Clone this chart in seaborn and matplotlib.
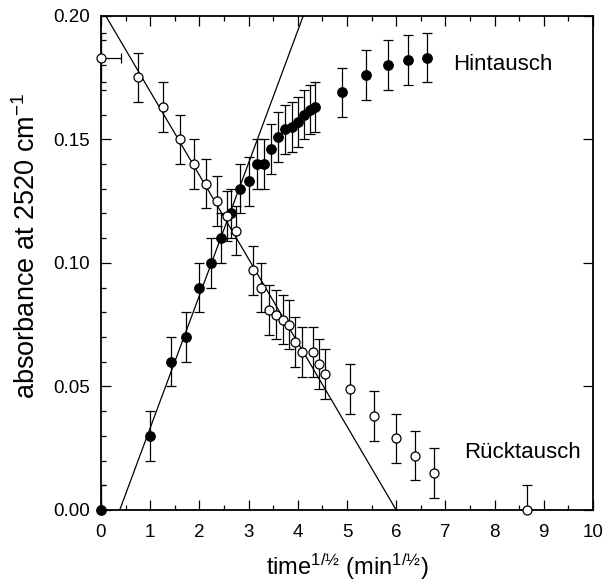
import numpy as np
import pandas as pd
import matplotlib
matplotlib.use("Agg")
import matplotlib.pyplot as plt
from matplotlib.ticker import MultipleLocator, FormatStrFormatter
import seaborn as sns

# Hintausch (filled circles)
hin_x = [0.0, 1.0, 1.414, 1.732, 2.0, 2.236, 2.449, 2.646, 2.828, 3.0, 3.162,
         3.317, 3.464, 3.606, 3.742, 3.873, 4.0, 4.123, 4.243, 4.359,
         4.899, 5.385, 5.831, 6.245, 6.633]
hin_y = [0.000, 0.030, 0.060, 0.070, 0.090, 0.100, 0.110, 0.120, 0.130, 0.133,
         0.140, 0.140, 0.146, 0.151, 0.154, 0.155, 0.157, 0.160, 0.162, 0.163,
         0.169, 0.176, 0.180, 0.182, 0.183]
hin_err = [0.01] * len(hin_x)

# Rücktausch (open circles)
rue_x = [0.0, 0.75, 1.25, 1.60, 1.89, 2.13, 2.35, 2.56, 2.75, 3.09, 3.25,
         3.41, 3.55, 3.69, 3.82, 3.95, 4.08, 4.31, 4.43, 4.55,
         5.06, 5.54, 5.99, 6.38, 6.77, 8.66]
rue_y = [0.183, 0.175, 0.163, 0.150, 0.140, 0.132, 0.125, 0.119, 0.113, 0.097,
         0.090, 0.081, 0.079, 0.077, 0.075, 0.068, 0.064, 0.064, 0.059, 0.055,
         0.049, 0.038, 0.029, 0.022, 0.015, 0.000]
rue_yerr = [0.01] * len(rue_x)
rue_xerr = [0.4] + [0.0] * (len(rue_x) - 1)

# Linear fits: y = intercept + slope * x
fit_names = ["Hintausch", "Rücktausch"]
fit_slope = [0.0536, -0.03387]
fit_intercept = [-0.0204, 0.2032]

x_ticks = list(range(0, 11))
y_ticks = [0.00, 0.05, 0.10, 0.15, 0.20]

sns.set_style("ticks")
plt.rcParams["font.family"] = ["Liberation Sans", "DejaVu Sans"]
plt.rcParams["mathtext.fontset"] = "custom"
plt.rcParams["mathtext.rm"] = "Liberation Sans"
plt.rcParams["mathtext.it"] = "Liberation Sans:italic"
plt.rcParams["mathtext.bf"] = "Liberation Sans:bold"
plt.rcParams["text.color"] = "black"
plt.rcParams["axes.labelcolor"] = "black"

fig = plt.figure(figsize=(6.03, 5.81), dpi=100)
ax = fig.add_axes([101 / 603, 1 - 510 / 581, 492 / 603, 494.3 / 581])

# fitted lines
xs = np.array([0.0, 10.0])
fit_rows = []
for name, m, b in zip(fit_names, fit_slope, fit_intercept):
    for xv in xs:
        fit_rows.append({"x": xv, "y": b + m * xv, "fit": name})
fit_df = pd.DataFrame(fit_rows)
sns.lineplot(data=fit_df, x="x", y="y", units="fit", estimator=None,
             color="black", lw=0.9, ax=ax, zorder=1)

# error bars
ax.errorbar(hin_x, hin_y, yerr=hin_err, fmt="none", ecolor="black",
            elinewidth=0.9, capsize=3.6, capthick=0.9, zorder=2)
ax.errorbar(rue_x, rue_y, yerr=rue_yerr, xerr=rue_xerr, fmt="none",
            ecolor="black", elinewidth=0.9, capsize=3.6, capthick=0.9, zorder=2)

hin_df = pd.DataFrame({"x": hin_x, "y": hin_y})
rue_df = pd.DataFrame({"x": rue_x, "y": rue_y})
sns.scatterplot(data=hin_df, x="x", y="y", ax=ax, s=48, color="black",
                edgecolor="black", linewidth=0.8, zorder=3, clip_on=False)
sns.scatterplot(data=rue_df, x="x", y="y", ax=ax, s=42, color="white",
                edgecolor="black", linewidth=0.9, zorder=4, clip_on=False)

ax.set_xlim(0, 10)
ax.set_ylim(0, 0.2)
ax.set_xticks(x_ticks)
ax.set_yticks(y_ticks)
ax.xaxis.set_minor_locator(MultipleLocator(0.5))
ax.yaxis.set_minor_locator(MultipleLocator(0.01))
ax.yaxis.set_major_formatter(FormatStrFormatter("%.2f"))

for s in ax.spines.values():
    s.set_linewidth(1.3)
    s.set_color("black")
ax.tick_params(which="both", direction="in", top=True, right=True,
               colors="black", width=0.9, labelsize=13.5, labelcolor="black")
ax.tick_params(which="major", length=7)
ax.tick_params(axis="x", which="major", pad=10)
ax.tick_params(axis="y", which="major", pad=8)
ax.tick_params(which="minor", length=3.5)
ax.tick_params(axis="y", which="minor", right=False)

ax.set_xlabel(r"time$^{\mathrm{1/½}}$ (min$^{\mathrm{1/½}}$)", fontsize=17, labelpad=8)
ax.set_ylabel(r"absorbance at 2520 cm$^{\mathrm{-1}}$", fontsize=19.5, labelpad=9)
ax.yaxis.label.set_y(0.535)

ax.text(7.16, 0.1781, "Hintausch", fontsize=16, ha="left", va="baseline")
ax.text(7.39, 0.0209, "Rücktausch", fontsize=16, ha="left", va="baseline")

fig.savefig("out.png", dpi=100)
